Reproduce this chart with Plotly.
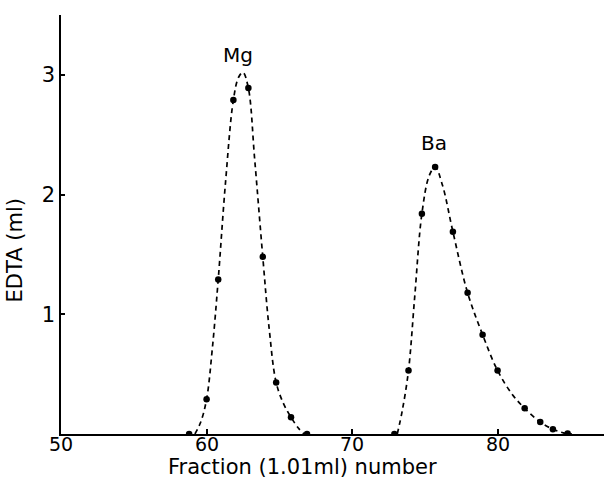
import plotly.graph_objects as go

# Measured fractions (points)
mg_x = [58.8, 60.0, 60.8, 61.84, 62.87, 63.86, 64.78, 65.8, 66.9]
mg_y = [0.0, 0.29, 1.29, 2.79, 2.89, 1.48, 0.43, 0.14, 0.0]
ba_x = [72.9, 73.87, 74.79, 75.7, 76.92, 77.93, 78.96, 79.99, 81.85, 82.92, 83.79, 84.8]
ba_y = [0.0, 0.53, 1.84, 2.23, 1.69, 1.18, 0.83, 0.53, 0.215, 0.10, 0.04, 0.005]

# Hand-drawn dashed curves
mg_curve_x = [59.2, 59.6, 60.0, 60.4, 60.8, 61.3, 61.84, 62.2, 62.5, 62.87, 63.3, 63.86, 64.3, 64.78, 65.3, 65.8, 66.3, 66.7]
mg_curve_y = [0.0, 0.1, 0.29, 0.72, 1.29, 2.1, 2.79, 2.98, 3.02, 2.89, 2.3, 1.48, 0.88, 0.43, 0.25, 0.14, 0.05, 0.0]
ba_curve_x = [73.1, 73.45, 73.87, 74.3, 74.79, 75.3, 75.7, 76.2, 76.92, 77.93, 78.96, 79.99, 81.0, 81.85, 82.92, 83.79, 84.5, 85.1]
ba_curve_y = [0.0, 0.2, 0.53, 1.15, 1.84, 2.16, 2.23, 2.08, 1.69, 1.18, 0.83, 0.53, 0.33, 0.215, 0.10, 0.04, 0.01, 0.0]

x_ticks = [50, 60, 70, 80]
x_tick_labels = ["50", "60", "70", "80"]
y_ticks = [1, 2, 3]

labels = ["Mg", "Ba"]
label_x = [62.14, 75.59]
label_y = [3.17, 2.43]

x_title = "Fraction (1.01ml) number"
y_title = "EDTA (ml)"

FONT = "DejaVu Sans"

fig = go.Figure()
for cx, cy in [(mg_curve_x, mg_curve_y), (ba_curve_x, ba_curve_y)]:
    fig.add_trace(go.Scatter(x=cx, y=cy, mode="lines",
                             line=dict(color="black", width=1.7, dash="5px,4px", shape="spline", smoothing=1.0),
                             showlegend=False, hoverinfo="skip"))
for px, py in [(mg_x, mg_y), (ba_x, ba_y)]:
    fig.add_trace(go.Scatter(x=px, y=py, mode="markers",
                             marker=dict(color="black", size=6.5),
                             showlegend=False))

for t, lx, ly in zip(labels, label_x, label_y):
    fig.add_annotation(x=lx, y=ly, text=t, showarrow=False,
                       font=dict(family=FONT, size=20, color="black"))

# x tick labels placed just under the axis line
for tv, tl in zip(x_ticks, x_tick_labels):
    fig.add_annotation(x=tv, xref="x", yref="paper", y=-(444 - 434) / 420,
                       text=tl, showarrow=False, yanchor="middle", xanchor="center",
                       borderpad=0, font=dict(family=FONT, size=19, color="black"))

# Axis titles placed as paper annotations
fig.add_annotation(xref="paper", yref="paper", x=(302 - 61) / 543, y=-(467 - 434) / 420,
                   text=x_title, showarrow=False, yanchor="middle", xanchor="center",
                   borderpad=0, font=dict(family=FONT, size=21, color="black"))
fig.add_annotation(xref="paper", yref="paper", x=-(61 - 15) / 543, y=(434 - 250) / 420,
                   text=y_title, showarrow=False, textangle=-90, yanchor="middle", xanchor="center",
                   font=dict(family=FONT, size=21, color="black"))

fig.update_layout(
    width=604, height=479,
    margin=dict(l=61, r=0, t=15, b=45),
    paper_bgcolor="white", plot_bgcolor="white",
    font=dict(family=FONT, color="black"),
    xaxis=dict(range=[50, 87.3], tickvals=x_ticks, ticks="inside", ticklen=5, tickwidth=1.5,
               tickcolor="black", showline=True, linecolor="black", linewidth=2,
               showgrid=False, zeroline=False, showticklabels=False),
    yaxis=dict(range=[0, 3.5], tickvals=y_ticks, ticks="inside", ticklen=4, tickwidth=1.5,
               tickcolor="black", showline=True, linecolor="black", linewidth=1.5,
               showgrid=False, zeroline=False, tickfont=dict(size=21)),
)

fig.write_html("out.html")
